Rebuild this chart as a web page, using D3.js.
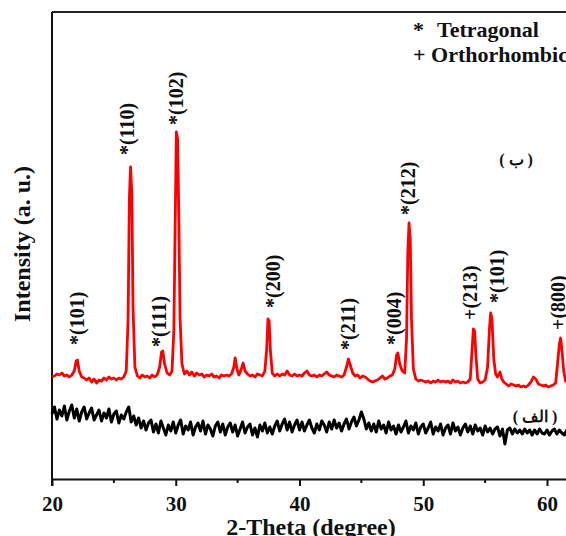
<!DOCTYPE html>
<html>
<head>
<meta charset="utf-8">
<script src="https://cdn.jsdelivr.net/npm/d3@7"></script>
<style>
  body { margin: 0; background: #fff; }
  svg text { font-family: "Liberation Serif", "Times New Roman", serif; font-weight: bold; }
</style>
</head>
<body>
<div id="xrd"></div>
<script>
const width = 566;
const height = 536;

const marginLeft = 52;
const marginTop = 12;
const axisY = 479;

// sample (ب) - red pattern, [2theta, intensity]
const redPattern = [
  [20.0,102],[20.2,103],[20.4,105],[20.6,104],[20.8,106],[21.0,103],[21.2,104],[21.4,102],[21.6,104],[21.8,108],
  [21.95,118],[22.05,119],[22.2,108],[22.4,102],[22.6,101],[22.8,99],[23.0,101],[23.2,97],[23.4,100],[23.6,96],
  [23.8,99],[24.0,98],[24.2,101],[24.4,99],[24.6,102],[24.8,100],[25.0,101],[25.2,99],[25.4,101],[25.6,100],
  [25.8,102],[26.0,108],[26.15,160],[26.25,280],[26.35,312],[26.45,285],[26.55,170],[26.7,112],[26.9,103],[27.1,101],
  [27.3,104],[27.5,102],[27.7,103],[27.9,101],[28.1,104],[28.3,102],[28.5,104],[28.7,112],[28.85,127],[28.95,128],
  [29.1,115],[29.3,106],[29.5,104],[29.7,108],[29.85,150],[29.95,250],[30.05,347],[30.15,340],[30.25,260],[30.35,160],
  [30.5,115],[30.7,105],[30.9,108],[31.1,104],[31.3,107],[31.5,103],[31.7,106],[31.9,104],[32.1,105],[32.3,102],
  [32.5,104],[32.7,103],[32.9,105],[33.1,102],[33.3,103],[33.5,101],[33.7,104],[33.9,103],[34.1,104],[34.3,103],
  [34.5,105],[34.7,112],[34.8,121],[34.95,110],[35.1,104],[35.3,110],[35.45,116],[35.6,108],[35.8,105],[36.0,103],
  [36.2,104],[36.4,102],[36.6,105],[36.8,104],[37.0,103],[37.2,108],[37.35,130],[37.45,160],[37.55,158],[37.65,128],
  [37.8,106],[38.0,103],[38.2,105],[38.4,103],[38.6,105],[38.8,104],[39.0,108],[39.2,104],[39.4,103],[39.6,105],
  [39.8,103],[40.0,104],[40.2,103],[40.4,106],[40.6,108],[40.8,104],[41.0,103],[41.2,104],[41.4,102],[41.6,104],
  [41.8,103],[42.0,105],[42.2,107],[42.4,104],[42.6,103],[42.8,102],[43.0,104],[43.2,103],[43.4,102],[43.6,104],
  [43.8,112],[43.95,120],[44.1,114],[44.3,106],[44.5,103],[44.7,104],[44.9,101],[45.1,103],[45.3,102],[45.5,100],
  [45.7,98],[45.9,97],[46.1,98],[46.3,99],[46.5,101],[46.7,103],[46.9,100],[47.1,101],[47.3,103],[47.5,104],
  [47.7,110],[47.85,124],[47.95,126],[48.1,115],[48.3,108],[48.5,106],[48.65,140],[48.75,225],[48.85,256],[48.95,240],
  [49.05,160],[49.2,110],[49.4,100],[49.6,98],[49.8,99],[50.0,98],[50.2,97],[50.4,98],[50.6,96],[50.8,98],
  [51.0,97],[51.2,99],[51.4,97],[51.6,98],[51.8,97],[52.0,98],[52.2,96],[52.4,99],[52.6,97],[52.8,98],
  [53.0,96],[53.2,97],[53.4,96],[53.6,97],[53.8,100],[53.95,130],[54.05,150],[54.15,148],[54.25,125],[54.4,100],
  [54.6,96],[54.8,97],[55.0,99],[55.2,112],[55.35,150],[55.45,166],[55.55,160],[55.7,120],[55.85,105],[56.0,102],
  [56.2,107],[56.35,100],[56.5,97],[56.7,95],[56.9,93],[57.1,95],[57.3,94],[57.5,93],[57.7,94],[57.9,92],
  [58.1,93],[58.3,92],[58.5,94],[58.7,97],[58.9,102],[59.1,100],[59.3,95],[59.5,94],[59.7,93],[59.9,94],
  [60.1,92],[60.3,93],[60.5,94],[60.7,96],[60.85,115],[61.0,135],[61.1,141],[61.2,130],[61.35,108],[61.5,98],[61.7,96]
];

// sample (الف) - black pattern, scanned from 20 in 0.2 degree steps
const blackStart = 20;
const blackStep = 0.2;
const blackValues = [
  65,72,60,69,63,73,59,68,74,61,
  70,58,67,72,60,66,71,59,64,69,
  58,66,61,70,57,65,68,56,64,60,
  67,72,57,63,54,61,51,58,49,56,
  59,47,55,46,58,51,44,54,48,57,
  46,54,59,45,53,49,57,44,52,56,
  48,58,45,54,50,43,53,57,47,55,
  44,52,56,47,54,43,50,57,46,52,
  55,44,51,42,54,48,56,46,52,45,
  53,58,48,55,60,49,57,47,54,59,
  49,57,48,54,59,51,46,55,49,58,
  54,47,57,50,59,51,56,48,55,60,
  50,57,62,53,59,67,60,50,56,48,
  55,47,58,50,54,46,57,49,53,45,
  54,47,52,58,46,53,49,56,45,52,
  55,46,51,57,45,52,48,55,44,51,
  54,45,56,48,52,44,51,55,47,53,
  45,54,48,51,44,53,47,51,45,50,
  52,43,50,35,49,51,45,50,46,49,
  45,50,46,49,44,49,45,50,46,45,
  49,44,48,50,45,49,46,44,49,47
];

// peak labels: text, 2theta of label, intensity where label starts
const peakText  = ["*(101)", "*(110)", "*(111)", "*(102)", "*(200)", "*(211)", "*(004)", "*(212)", "+(213)", "*(101)", "+(800)"];
const peakTheta = [22.0, 26.06, 28.64, 30.02, 37.85, 43.9, 47.64, 48.77, 53.78, 55.96, 60.89];
const peakStart = [134, 324, 132, 354, 171, 129, 134, 264, 159, 176, 149];

const xTicks = [20, 30, 40, 50, 60];
const xMinor = [25, 35, 45, 55];

const svg = d3.select("#xrd").append("svg").attr("width", width).attr("height", height);

const x = d3.scaleLinear().domain([20, 61.8]).range([marginLeft, marginLeft + 41.8 * 12.375]);
const y = d3.scaleLinear().domain([0, axisY - marginTop]).range([axisY, marginTop]);

// frame: top line and left axis
svg.append("line").attr("x1", marginLeft).attr("x2", width).attr("y1", marginTop).attr("y2", marginTop)
   .attr("stroke", "#222").attr("stroke-width", 2);
svg.append("line").attr("x1", marginLeft).attr("x2", marginLeft).attr("y1", marginTop).attr("y2", axisY + 7)
   .attr("stroke", "#111").attr("stroke-width", 2);

// x axis
const gx = svg.append("g").attr("transform", `translate(0, ${axisY})`)
   .call(d3.axisBottom(x).tickValues(xTicks).tickSize(7).tickSizeOuter(0).tickPadding(10));
gx.select(".domain").attr("stroke", "#111").attr("stroke-width", 2);
gx.selectAll(".tick line").attr("stroke", "#111").attr("stroke-width", 2);
gx.selectAll(".tick text").attr("font-size", 21).attr("font-family", null).attr("fill", "#111");

svg.append("g").selectAll("line").data(xMinor).join("line")
   .attr("x1", d => x(d)).attr("x2", d => x(d)).attr("y1", axisY).attr("y2", axisY + 4)
   .attr("stroke", "#111").attr("stroke-width", 2);

svg.append("text").text("2-Theta (degree)")
   .attr("x", 311).attr("y", 535).attr("text-anchor", "middle").attr("font-size", 24).attr("fill", "#111");

svg.append("text").text("Intensity (a. u.)")
   .attr("transform", "translate(30, 244) rotate(-90)")
   .attr("text-anchor", "middle").attr("font-size", 24).attr("fill", "#111");

// patterns
const line = d3.line().x(d => x(d[0])).y(d => y(d[1]));

const blackPattern = blackValues.map((v, i) => [blackStart + i * blackStep, v]);

svg.append("path").datum(blackPattern)
   .attr("fill", "none").attr("stroke", "#000").attr("stroke-width", 3).attr("stroke-linejoin", "round")
   .attr("d", line);

svg.append("path").datum(redPattern)
   .attr("fill", "none").attr("stroke", "#ff0000").attr("stroke-width", 2.8).attr("stroke-linejoin", "round")
   .attr("d", line);

// peak labels
svg.append("g").selectAll("text").data(peakText).join("text")
   .text(d => d)
   .attr("transform", (d, i) => `translate(${x(peakTheta[i])}, ${y(peakStart[i])}) rotate(-90)`)
   .attr("dy", "0.35em")
   .attr("font-size", 20).attr("fill", "#111");

// legend
svg.append("text").text("*").attr("x", 413).attr("y", 37).attr("font-size", 22).attr("fill", "#111");
svg.append("text").text("Tetragonal").attr("x", 437).attr("y", 37).attr("font-size", 22).attr("fill", "#111");
svg.append("text").text("+ Orthorhombic").attr("x", 413).attr("y", 62).attr("font-size", 22).attr("fill", "#111");

// sample names
svg.append("text").text("( ب )").attr("x", 516).attr("y", 165).attr("text-anchor", "middle")
   .attr("font-family", "DejaVu Sans").attr("font-weight", "normal").attr("font-size", 16).attr("fill", "#111");
svg.append("text").text("( الف )").attr("x", 535).attr("y", 422).attr("text-anchor", "middle")
   .attr("font-family", "DejaVu Sans").attr("font-weight", "normal").attr("font-size", 16).attr("fill", "#111");
</script>
</body>
</html>
